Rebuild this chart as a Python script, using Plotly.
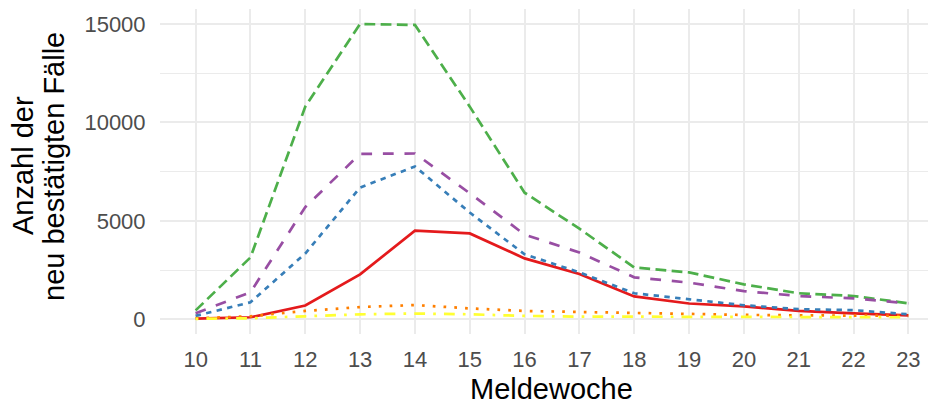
import plotly.graph_objects as go

weeks = list(range(10, 24))

series_names = ["A80+", "A60-A79", "A35-A59", "A15-A34", "A05-A14", "A00-A04"]
a80 = [30, 100, 700, 2280, 4500, 4360, 3090, 2300, 1160, 800, 650, 420, 300, 200]
a60 = [170, 860, 3340, 6690, 7760, 5420, 3300, 2380, 1320, 1010, 710, 510, 460, 250]
a35 = [450, 3140, 10800, 15000, 14950, 10800, 6430, 4600, 2630, 2380, 1770, 1320, 1180, 810]
a15 = [300, 1370, 5700, 8400, 8420, 6400, 4300, 3390, 2130, 1860, 1430, 1180, 1060, 810]
a05 = [50, 150, 420, 620, 720, 550, 420, 370, 290, 250, 220, 200, 180, 170]
a00 = [20, 50, 150, 250, 290, 250, 170, 130, 130, 120, 110, 100, 100, 100]

series_values = [a80, a60, a35, a15, a05, a00]
colors = ["#E41A1C", "#377EB8", "#4DAF4A", "#984EA3", "#FF7F00", "#FFFF33"]
u = 2.7
dashes = [
    "solid",
    f"{2*u}px,{2*u}px",
    f"{4*u}px,{2*u}px",
    f"{4*u}px,{4*u}px",
    f"{1*u}px,{3*u}px",
    f"{1*u}px,{3*u}px,{4*u}px,{3*u}px",
]

y_ticks = [0, 5000, 10000, 15000]
x_title = "Meldewoche"
y_title_lines = ["Anzahl der", "neu bestätigten Fälle"]

fig = go.Figure()
for name, vals, col, dash in zip(series_names, series_values, colors, dashes):
    fig.add_trace(go.Scatter(
        x=weeks, y=vals, mode="lines", name=name,
        line=dict(color=col, width=2.7, dash=dash),
        showlegend=False,
    ))

# page body has an 8px margin; compensate so the picture lines up
OFF = 8
W, H = 936, 405
ml, mr, mt, mb = 160 - OFF, 0, 9 - OFF, H - (334 - OFF)
pw = W - ml - mr
ph = H - mt - mb

def px_x(page_x):
    return (page_x - OFF - ml) / pw

def px_y(page_y):
    return (H - mb - (page_y - OFF)) / ph

annotations = [
    dict(text=x_title, xref="paper", yref="paper",
         x=px_x(551), y=px_y(388.5),
         xanchor="center", yanchor="middle", showarrow=False,
         font=dict(size=29, color="black")),
]
for line_text, cx in zip(y_title_lines, [23, 54]):
    annotations.append(dict(
        text=line_text, xref="paper", yref="paper",
        x=px_x(cx), y=px_y(166),
        xanchor="center", yanchor="middle", showarrow=False, textangle=-90,
        font=dict(size=29, color="black")))

fig.update_layout(
    width=W, height=H,
    margin=dict(l=ml, r=mr, t=mt, b=mb, pad=0),
    paper_bgcolor="white", plot_bgcolor="white",
    font=dict(family="Liberation Sans, Arial, sans-serif", size=22, color="#4D4D4D"),
    xaxis=dict(
        range=[9.35, 23.65],
        tickmode="array", tickvals=weeks, ticktext=[str(w) for w in weeks],
        showgrid=True, gridcolor="#EBEBEB", gridwidth=1.8,
        zeroline=False, showline=False,
        ticks="outside", ticklen=6, tickcolor="rgba(0,0,0,0)",
        tickfont=dict(size=22, color="#4D4D4D"),
    ),
    yaxis=dict(
        range=[-750, 15760],
        tickmode="array", tickvals=y_ticks, ticktext=[str(v) for v in y_ticks],
        showgrid=True, gridcolor="#EBEBEB", gridwidth=1.8,
        minor=dict(tickmode="array", tickvals=[2500, 7500, 12500], showgrid=True,
                   gridcolor="#EBEBEB", gridwidth=0.9),
        zeroline=False, showline=False,
        ticks="outside", ticklen=9, tickcolor="rgba(0,0,0,0)",
        tickfont=dict(size=22, color="#4D4D4D"),
    ),
    annotations=annotations,
)

fig.write_html("out.html")
